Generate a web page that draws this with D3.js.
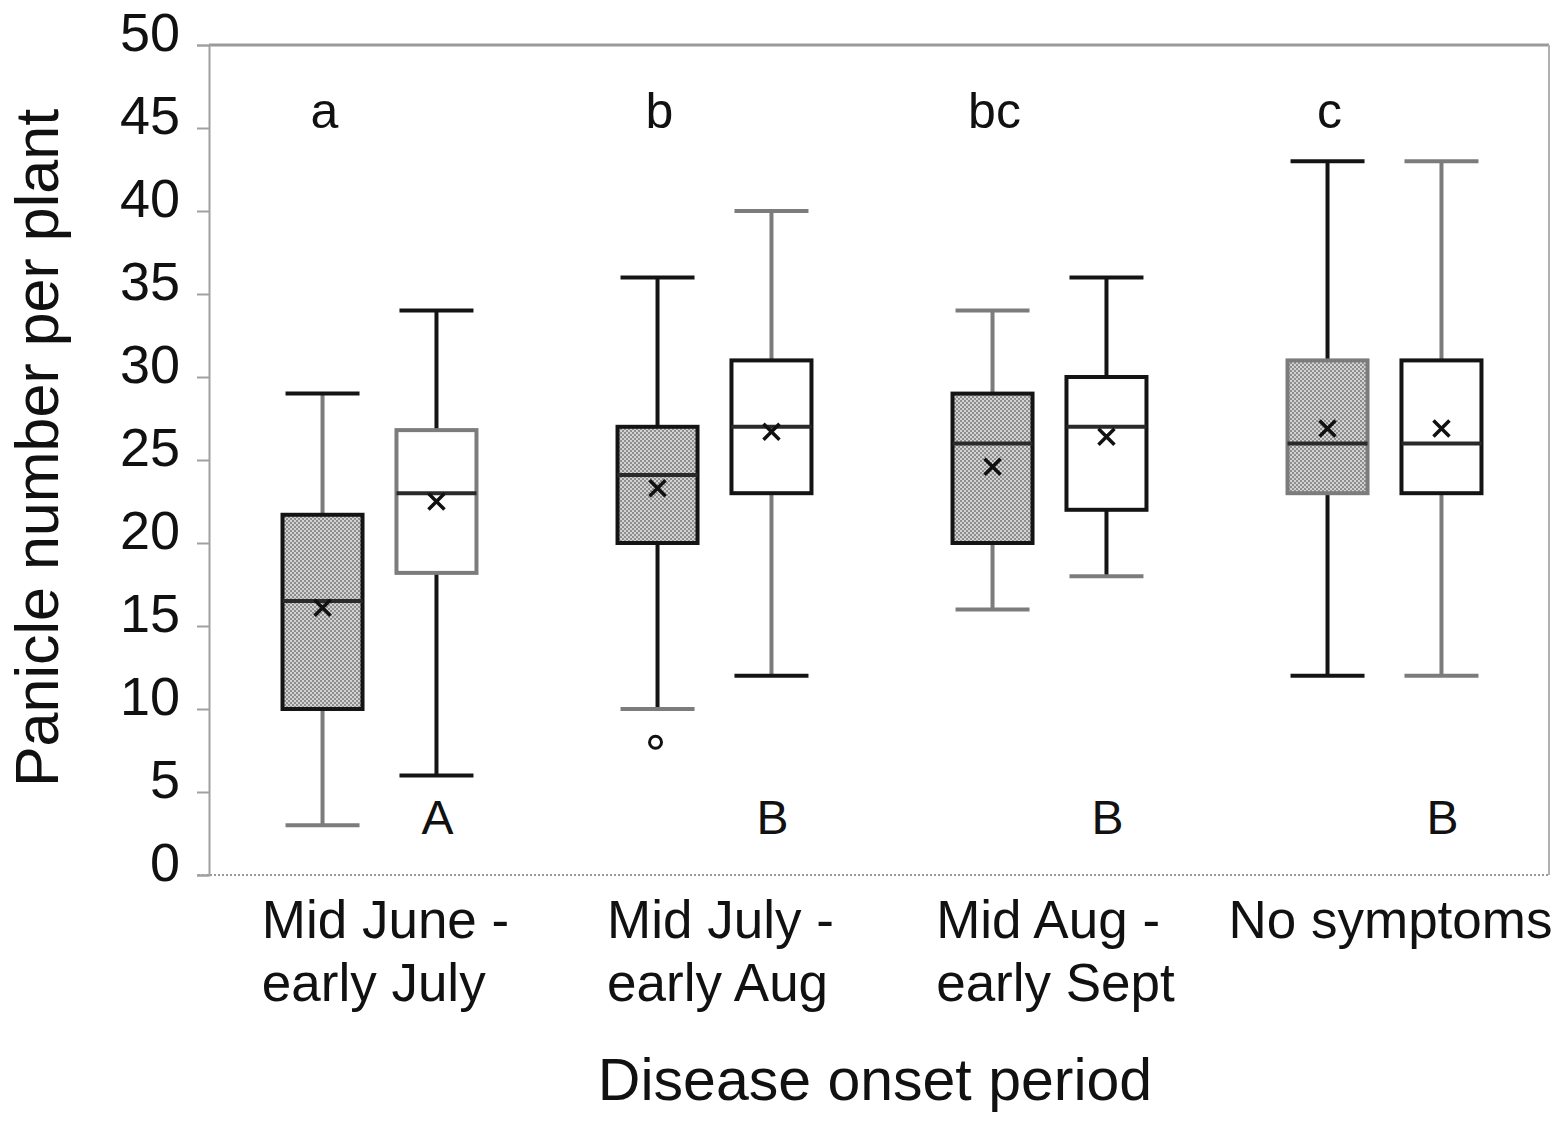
<!DOCTYPE html>
<html>
<head>
<meta charset="utf-8">
<script src="https://cdn.jsdelivr.net/npm/d3@7"></script>
<style>
    body { margin: 0; background: #fff; }
    svg text { font-family: "Liberation Sans", Arial, sans-serif; fill: #111; }
</style>
</head>
<body>
<svg class="vis" width="1567" height="1124"></svg>
<script>

// groups along x
const periods = ["Mid June - early July", "Mid July - early Aug", "Mid Aug - early Sept", "No symptoms"];
const periodLines = [["Mid June -", "early July"], ["Mid July -", "early Aug"], ["Mid Aug -", "early Sept"], ["No symptoms"]];

// two boxes per group: shaded (diseased) and white
const series = ["shaded", "white"];

// five-number summaries, [low, q1, median, q3, high]
const shadedStats = [
    [3, 10, 16.5, 21.7, 29],
    [10, 20, 24.1, 27, 36],
    [16, 20, 26, 29, 34],
    [12, 23, 26, 31, 43]
];
const whiteStats = [
    [6, 18.2, 23, 26.8, 34],
    [12, 23, 27, 31, 40],
    [18, 22, 27, 30, 36],
    [12, 23, 26, 31, 43]
];

const shadedMeans = [16.1, 23.3, 24.6, 26.9];
const whiteMeans = [22.5, 26.7, 26.4, 26.9];

// outliers: [period index, series, value]
const outliers = [[1, "shaded", 8]];

const lowerLetters = ["a", "b", "bc", "c"];
const upperLetters = ["A", "B", "B", "B"];

const yTicks = [0, 5, 10, 15, 20, 25, 30, 35, 40, 45, 50];


const v = {

    dims : {
        left : 209,
        right : 1549,
        top : 45,
        bottom : 875
    },

    col : {
        dark : "#141414",
        grey : "#7c7c7c",
        frame : "#a0a0a0"
    },

    // per box line tones (scan is patchy: some strokes came out grey)
    tones : {
        shaded : [
            { box : "dark", whisker : "grey", capHi : "dark", capLo : "grey" },
            { box : "dark", whisker : "dark", capHi : "dark", capLo : "grey" },
            { box : "dark", whisker : "grey", capHi : "grey", capLo : "grey" },
            { box : "grey", whisker : "dark", capHi : "dark", capLo : "dark" }
        ],
        white : [
            { box : "grey", whisker : "dark", capHi : "dark", capLo : "dark" },
            { box : "dark", whisker : "grey", capHi : "grey", capLo : "dark" },
            { box : "dark", whisker : "dark", capHi : "dark", capLo : "grey" },
            { box : "dark", whisker : "grey", capHi : "grey", capLo : "grey" }
        ]
    },

    scales : {

        x : null,
        inner : null,
        y : null,

        init : () => {

            const d = v.dims;

            // pairs sit a touch right of the band centres in the original
            v.scales.x = d3.scaleBand()
              .domain(periods)
              .range([d.left + 3, d.right + 3])
              .padding(0);

            v.scales.inner = d3.scalePoint()
              .domain(series)
              .range([0, v.scales.x.bandwidth()])
              .padding(0.97);

            v.scales.y = d3.scaleLinear()
              .domain([0, 50])
              .range([d.bottom, d.top]);

        }

    },

    vis : {

        svg : 'svg.vis',

        boxWidth : 80,
        capWidth : 74,

        defs : (svg) => {

            // dithered grey like the printed fill
            const pat = svg.append("defs")
              .append("pattern")
              .attr("id", "dither")
              .attr("width", 4)
              .attr("height", 4)
              .attr("patternUnits", "userSpaceOnUse");

            pat.append("rect").attr("width", 4).attr("height", 4).attr("fill", "#d2d2d2");
            pat.append("rect").attr("width", 2).attr("height", 2).attr("fill", "#8e8e8e");
            pat.append("rect").attr("x", 2).attr("y", 2).attr("width", 2).attr("height", 2).attr("fill", "#8e8e8e");

        },

        frame : (svg) => {

            const d = v.dims;
            const g = svg.append("g").attr("class", "frame");

            g.append("line")
              .attr("x1", d.left).attr("x2", d.right)
              .attr("y1", d.top).attr("y2", d.top)
              .attr("stroke", "#9a9a9a").attr("stroke-width", 3);

            g.append("line")
              .attr("x1", d.right).attr("x2", d.right)
              .attr("y1", d.top).attr("y2", d.bottom)
              .attr("stroke", "#b0b0b0").attr("stroke-width", 2);

            g.append("line")
              .attr("x1", d.left - 11).attr("x2", d.right)
              .attr("y1", d.bottom).attr("y2", d.bottom)
              .attr("stroke", "#9a9a9a").attr("stroke-width", 2)
              .attr("stroke-dasharray", "2,2");

        },

        axes : (svg) => {

            const y = v.scales.y;

            const yAxis = svg.append("g")
              .attr("transform", `translate(${v.dims.left},0)`)
              .call(
                  d3.axisLeft(y)
                    .tickValues(yTicks)
                    .tickSize(12)
                    .tickPadding(17)
                    .tickFormat(d3.format("d"))
              );

            yAxis.select(".domain")
              .attr("stroke", "#a0a0a0")
              .attr("stroke-width", 2);

            yAxis.selectAll(".tick line")
              .attr("stroke", "#a0a0a0")
              .attr("stroke-width", 2);

            yAxis.selectAll(".tick text")
              .attr("font-size", 54)
              .attr("dy", "0.1em")
              .attr("fill", "#111");

            // y title
            svg.append("text")
              .attr("transform", "translate(58,448) rotate(-90)")
              .attr("text-anchor", "middle")
              .attr("font-size", 61)
              .text("Panicle number per plant");

            // x title
            svg.append("text")
              .attr("x", 875)
              .attr("y", 1100)
              .attr("text-anchor", "middle")
              .attr("font-size", 59)
              .text("Disease onset period");

            // category labels, left aligned block
            const x = v.scales.x;
            periods.forEach((p, i) => {

                const g = svg.append("g");
                const lines = periodLines[i];

                const texts = g.selectAll("text")
                  .data(lines)
                  .join("text")
                  .attr("y", (d, j) => 938 + j * 63)
                  .attr("font-size", 53)
                  .text(d => d);

                let w = 0;
                texts.each(function() { w = Math.max(w, this.getComputedTextLength()); });

                const cx = x(p) + x.bandwidth() / 2 + 6;
                texts.attr("x", cx - w / 2);

            });

        },

        boxes : (svg) => {

            const x = v.scales.x;
            const inner = v.scales.inner;
            const y = v.scales.y;
            const bw = v.vis.boxWidth;
            const cw = v.vis.capWidth;
            const col = v.col;

            const rows = [];
            periods.forEach((p, i) => {
                rows.push({ p, i, s : "shaded", st : shadedStats[i], mean : shadedMeans[i], tone : v.tones.shaded[i] });
                rows.push({ p, i, s : "white", st : whiteStats[i], mean : whiteMeans[i], tone : v.tones.white[i] });
            });

            const cx = d => x(d.p) + inner(d.s);

            const g = svg.append("g")
              .selectAll("g")
              .data(rows)
              .join("g");

            // whiskers
            g.append("line")
              .attr("x1", cx).attr("x2", cx)
              .attr("y1", d => y(d.st[4])).attr("y2", d => y(d.st[3]))
              .attr("stroke", d => col[d.tone.whisker])
              .attr("stroke-width", 4);

            g.append("line")
              .attr("x1", cx).attr("x2", cx)
              .attr("y1", d => y(d.st[1])).attr("y2", d => y(d.st[0]))
              .attr("stroke", d => col[d.tone.whisker])
              .attr("stroke-width", 4);

            // caps
            g.append("line")
              .attr("x1", d => cx(d) - cw / 2).attr("x2", d => cx(d) + cw / 2)
              .attr("y1", d => y(d.st[4])).attr("y2", d => y(d.st[4]))
              .attr("stroke", d => col[d.tone.capHi])
              .attr("stroke-width", 4);

            g.append("line")
              .attr("x1", d => cx(d) - cw / 2).attr("x2", d => cx(d) + cw / 2)
              .attr("y1", d => y(d.st[0])).attr("y2", d => y(d.st[0]))
              .attr("stroke", d => col[d.tone.capLo])
              .attr("stroke-width", 4);

            // box
            g.append("rect")
              .attr("x", d => cx(d) - bw / 2)
              .attr("width", bw)
              .attr("y", d => y(d.st[3]))
              .attr("height", d => y(d.st[1]) - y(d.st[3]))
              .attr("fill", d => d.s === "shaded" ? "url(#dither)" : "#fff")
              .attr("stroke", d => col[d.tone.box])
              .attr("stroke-width", 4);

            // median
            g.append("line")
              .attr("x1", d => cx(d) - bw / 2).attr("x2", d => cx(d) + bw / 2)
              .attr("y1", d => y(d.st[2])).attr("y2", d => y(d.st[2]))
              .attr("stroke", "#2a2a2a")
              .attr("stroke-width", 4);

            // mean cross
            const m = 8;
            g.append("path")
              .attr("d", d => {
                  const px = cx(d), py = y(d.mean);
                  return `M${px - m},${py - m}L${px + m},${py + m}M${px - m},${py + m}L${px + m},${py - m}`;
              })
              .attr("stroke", "#111")
              .attr("stroke-width", 3.5)
              .attr("fill", "none");

            // outliers
            svg.append("g")
              .selectAll("circle")
              .data(outliers)
              .join("circle")
              .attr("cx", d => x(periods[d[0]]) + inner(d[1]) - 2)
              .attr("cy", d => y(d[2]))
              .attr("r", 6)
              .attr("fill", "#fff")
              .attr("stroke", "#111")
              .attr("stroke-width", 3);

        },

        letters : (svg) => {

            const x = v.scales.x;
            const inner = v.scales.inner;
            const y = v.scales.y;

            svg.append("g")
              .selectAll("text")
              .data(lowerLetters)
              .join("text")
              .attr("x", (d, i) => x(periods[i]) + inner("shaded") + 2)
              .attr("y", y(45))
              .attr("text-anchor", "middle")
              .attr("font-size", 50)
              .text(d => d);

            svg.append("g")
              .selectAll("text")
              .data(upperLetters)
              .join("text")
              .attr("x", (d, i) => x(periods[i]) + inner("white") + 1)
              .attr("y", y(2.5))
              .attr("text-anchor", "middle")
              .attr("font-size", 48)
              .text(d => d);

        },

        draw : () => {

            const svg = d3.select(v.vis.svg);

            v.vis.defs(svg);
            v.vis.frame(svg);
            v.vis.axes(svg);
            v.vis.boxes(svg);
            v.vis.letters(svg);

        }

    },

    ctrl : {

        init : () => {

            v.scales.init();
            v.vis.draw();

        }

    }

}

v.ctrl.init();

</script>
</body>
</html>
